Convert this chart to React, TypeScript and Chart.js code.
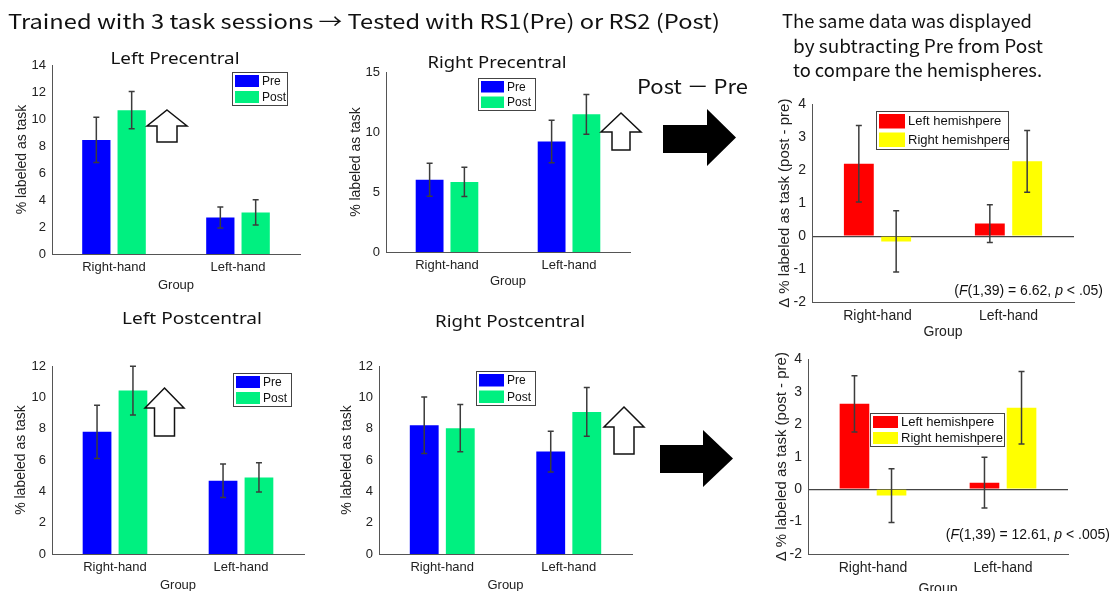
import React, { useEffect, useRef } from "react";
import { Chart, registerables } from "chart.js";
Chart.register(...registerables);

// ---------- data ----------
const groups = ["Right-hand", "Left-hand"];
const sessionLabels = ["Pre", "Post"];
const hemiLabels = ["Left hemishpere", "Right hemishpere"];

// Left Precentral
const lpcPre = [8.45, 2.7];
const lpcPreErr = [1.68, 0.78];
const lpcPost = [10.65, 3.08];
const lpcPostErr = [1.38, 0.93];
const lpcRange = [0, 14, 2];

// Right Precentral
const rpcPre = [6.02, 9.2];
const rpcPreErr = [1.37, 1.77];
const rpcPost = [5.84, 11.47];
const rpcPostErr = [1.22, 1.65];
const rpcRange = [0, 15, 5];

// Precentral difference (post - pre)
const dpcLeft = [2.2, 0.38];
const dpcLeftErr = [1.16, 0.575];
const dpcRight = [-0.16, 2.27];
const dpcRightErr = [0.93, 0.935];
const dpcRange = [-2, 4, 1];

// Left Postcentral
const lpoPre = [7.8, 4.68];
const lpoPreErr = [1.7, 1.07];
const lpoPost = [10.43, 4.89];
const lpoPostErr = [1.55, 0.94];
const lpoRange = [0, 12, 2];

// Right Postcentral
const rpoPre = [8.22, 6.54];
const rpoPreErr = [1.8, 1.3];
const rpoPost = [8.03, 9.07];
const rpoPostErr = [1.51, 1.55];
const rpoRange = [0, 12, 2];

// Postcentral difference (post - pre)
const dpoLeft = [2.63, 0.2];
const dpoLeftErr = [0.865, 0.785];
const dpoRight = [-0.2, 2.51];
const dpoRightErr = [0.825, 1.12];
const dpoRange = [-2, 4, 1];

const preColor = "#0000ff";
const postColor = "#00f080";
const leftHemiColor = "#ff0000";
const rightHemiColor = "#ffff00";

const FONT = '"Liberation Sans", Arial, sans-serif';

type DS = { label: string; color: string; data: number[]; err: number[] };
type Cfg = {
  left: number; top: number; w: number; h: number;
  yW: number; xH: number; padTop: number; padRight: number;
  range: number[]; zero: boolean; fs: number; tf: number;
  yTitle: string; yTitlePad: number; groupPad: number;
  sets: DS[];
  title?: { text: string; cx: number; cy: number; width: number; size: number };
  legend: { x: number; y: number; w: number; h: number; sw: number; size: number };
  note?: { parts: { t: string; it: boolean }[]; right: number; cy: number; size: number };
};

const prePost = (pre: number[], preErr: number[], post: number[], postErr: number[]): DS[] => [
  { label: sessionLabels[0], color: preColor, data: pre, err: preErr },
  { label: sessionLabels[1], color: postColor, data: post, err: postErr },
];
const hemi = (l: number[], lErr: number[], r: number[], rErr: number[]): DS[] => [
  { label: hemiLabels[0], color: leftHemiColor, data: l, err: lErr },
  { label: hemiLabels[1], color: rightHemiColor, data: r, err: rErr },
];

const panels: Cfg[] = [
  {
    left: 0, top: 40, w: 304, h: 260, yW: 52, xH: 46, padTop: 25, padRight: 4,
    range: lpcRange, zero: false, fs: 13, tf: 14, yTitle: "% labeled as task", yTitlePad: 13.6, groupPad: 7.2,
    sets: prePost(lpcPre, lpcPreErr, lpcPost, lpcPostErr),
    title: { text: "Left Precentral", cx: 175, cy: 59, width: 129, size: 16.5 },
    legend: { x: 232, y: 72, w: 56, h: 34, sw: 24, size: 12 },
  },
  {
    left: 300, top: 40, w: 335, h: 260, yW: 86, xH: 48, padTop: 32, padRight: 5,
    range: rpcRange, zero: false, fs: 13, tf: 14, yTitle: "% labeled as task", yTitlePad: 47.3, groupPad: 11.2,
    sets: prePost(rpcPre, rpcPreErr, rpcPost, rpcPostErr),
    title: { text: "Right Precentral", cx: 497, cy: 63, width: 139, size: 16.5 },
    legend: { x: 478, y: 78, w: 58, h: 33, sw: 23, size: 12 },
  },
  {
    left: 760, top: 90, w: 355, h: 255, yW: 52, xH: 43, padTop: 14, padRight: 41,
    range: dpcRange, zero: true, fs: 14, tf: 15, yTitle: "\u0394 % labeled as task (post - pre)", yTitlePad: 16, groupPad: 4.6,
    sets: hemi(dpcLeft, dpcLeftErr, dpcRight, dpcRightErr),
    legend: { x: 876, y: 111, w: 133, h: 39, sw: 26, size: 13 },
    note: {
      parts: [
        { t: "(", it: false }, { t: "F", it: true }, { t: "(1,39) = 6.62, ", it: false },
        { t: "p", it: true }, { t: " < .05)", it: false },
      ],
      right: 1103, cy: 291, size: 14,
    },
  },
  {
    left: 0, top: 300, w: 310, h: 291, yW: 52, xH: 37, padTop: 66, padRight: 6,
    range: lpoRange, zero: false, fs: 13, tf: 14, yTitle: "% labeled as task", yTitlePad: 12.6, groupPad: -1.8,
    sets: prePost(lpoPre, lpoPreErr, lpoPost, lpoPostErr),
    title: { text: "Left Postcentral", cx: 192, cy: 319, width: 140, size: 16.5 },
    legend: { x: 233, y: 373, w: 59, h: 34, sw: 24, size: 12 },
  },
  {
    left: 300, top: 300, w: 340, h: 291, yW: 79, xH: 37, padTop: 66, padRight: 8,
    range: rpoRange, zero: false, fs: 13, tf: 14, yTitle: "% labeled as task", yTitlePad: 38.6, groupPad: -1.8,
    sets: prePost(rpoPre, rpoPreErr, rpoPost, rpoPostErr),
    title: { text: "Right Postcentral", cx: 510, cy: 322, width: 150, size: 16.5 },
    legend: { x: 476, y: 371, w: 60, h: 35, sw: 25, size: 12 },
  },
  {
    left: 760, top: 345, w: 355, h: 246, yW: 48, xH: 37, padTop: 12, padRight: 47,
    range: dpoRange, zero: true, fs: 14, tf: 15, yTitle: "\u0394 % labeled as task (post - pre)", yTitlePad: 13, groupPad: -6.4,
    sets: hemi(dpoLeft, dpoLeftErr, dpoRight, dpoRightErr),
    legend: { x: 870, y: 413, w: 135, h: 34, sw: 25, size: 13 },
    note: {
      parts: [
        { t: "(", it: false }, { t: "F", it: true }, { t: "(1,39) = 12.61, ", it: false },
        { t: "p", it: true }, { t: " < .005)", it: false },
      ],
      right: 1110, cy: 535, size: 14,
    },
  },
];

function makePlugin(c: Cfg) {
  return {
    id: "decor",
    afterDatasetsDraw(chart: any) {
      const ctx = chart.ctx as CanvasRenderingContext2D;
      const ys = chart.scales.y;
      ctx.save();
      ctx.strokeStyle = "#3c3c3c";
      ctx.lineWidth = 1.5;
      c.sets.forEach((s, i) => {
        const meta = chart.getDatasetMeta(i);
        meta.data.forEach((el: any, j: number) => {
          const x = el.x;
          const y1 = ys.getPixelForValue(s.data[j] + s.err[j]);
          const y2 = ys.getPixelForValue(s.data[j] - s.err[j]);
          ctx.beginPath();
          ctx.moveTo(x, y1); ctx.lineTo(x, y2);
          ctx.moveTo(x - 3, y1); ctx.lineTo(x + 3, y1);
          ctx.moveTo(x - 3, y2); ctx.lineTo(x + 3, y2);
          ctx.stroke();
        });
      });
      ctx.restore();
    },
    afterDraw(chart: any) {
      const ctx = chart.ctx as CanvasRenderingContext2D;
      ctx.save();
      // legend box
      const lg = c.legend;
      const X = lg.x - c.left, Y = lg.y - c.top;
      ctx.fillStyle = "#fff";
      ctx.fillRect(X, Y, lg.w, lg.h);
      ctx.strokeStyle = "#444";
      ctx.lineWidth = 1;
      ctx.strokeRect(X + 0.5, Y + 0.5, lg.w - 1, lg.h - 1);
      const n = c.sets.length;
      const rowH = (lg.h - 2) / n;
      c.sets.forEach((s, i) => {
        const ry = Y + 1 + i * rowH;
        ctx.fillStyle = s.color;
        ctx.fillRect(X + 3, ry + 2, lg.sw, rowH - 4);
        ctx.fillStyle = "#111";
        ctx.font = `${lg.size}px ${FONT}`;
        ctx.textBaseline = "middle";
        ctx.textAlign = "left";
        ctx.fillText(s.label, X + 3 + lg.sw + 3, ry + rowH / 2 + 0.5);
      });
      // panel title
      if (c.title) {
        const t = c.title;
        ctx.font = `${t.size}px "Noto Sans", sans-serif`;
        const m = ctx.measureText(t.text).width;
        ctx.save();
        ctx.translate(t.cx - c.left, t.cy - c.top);
        ctx.scale(t.width / m, 1);
        ctx.fillStyle = "#111";
        ctx.textAlign = "center";
        ctx.textBaseline = "middle";
        ctx.fillText(t.text, 0, 0);
        ctx.restore();
      }
      // statistics note
      if (c.note) {
        const nt = c.note;
        const fontOf = (it: boolean) => `${it ? "italic " : ""}${nt.size}px ${FONT}`;
        let total = 0;
        nt.parts.forEach((p) => { ctx.font = fontOf(p.it); total += ctx.measureText(p.t).width; });
        let x = nt.right - c.left - total;
        ctx.fillStyle = "#111";
        ctx.textBaseline = "middle";
        ctx.textAlign = "left";
        nt.parts.forEach((p) => {
          ctx.font = fontOf(p.it);
          ctx.fillText(p.t, x, nt.cy - c.top);
          x += ctx.measureText(p.t).width;
        });
      }
      ctx.restore();
    },
  };
}

function Panel({ c }: { c: Cfg }) {
  const ref = useRef<HTMLCanvasElement>(null);
  useEffect(() => {
    const font = { family: FONT, size: c.fs };
    const tfont = { family: FONT, size: c.tf };
    const chart = new Chart(ref.current as HTMLCanvasElement, {
      type: "bar",
      data: {
        labels: groups,
        datasets: c.sets.map((s) => ({
          label: s.label,
          data: s.data,
          backgroundColor: s.color,
          borderWidth: 0,
          categoryPercentage: 0.57,
          barPercentage: 0.8,
        })),
      },
      options: {
        animation: false,
        responsive: false,
        maintainAspectRatio: false,
        layout: { padding: { top: c.padTop, right: c.padRight, left: 0, bottom: 0 } },
        plugins: { legend: { display: false }, tooltip: { enabled: false }, title: { display: false } },
        scales: {
          x: {
            ticks: { font, color: "#222", padding: 6, maxRotation: 0 },
            grid: { display: false, drawTicks: false },
            border: { display: true, color: "#555", width: 1 },
            title: { display: true, text: "Group", font, color: "#222", padding: { top: 0, bottom: c.groupPad } },
            afterFit: (s: any) => { s.height = c.xH; },
          },
          y: {
            min: c.range[0],
            max: c.range[1],
            ticks: { stepSize: c.range[2], font, color: "#222", padding: 6 },
            grid: c.zero
              ? {
                  display: true,
                  drawOnChartArea: true,
                  drawTicks: false,
                  lineWidth: 1.2,
                  color: (ctx: any) => (ctx.tick && ctx.tick.value === 0 ? "#444" : "rgba(0,0,0,0)"),
                }
              : { display: false, drawTicks: false },
            border: { display: true, color: "#555", width: 1 },
            title: { display: true, text: c.yTitle, font: tfont, color: "#222", padding: { top: c.yTitlePad, bottom: 0 } },
            afterFit: (s: any) => { s.width = c.yW; },
          },
        },
      } as any,
      plugins: [makePlugin(c)],
    });
    return () => chart.destroy();
  }, []);
  return (
    <canvas
      ref={ref}
      width={c.w}
      height={c.h}
      style={{ position: "absolute", left: c.left, top: c.top, width: c.w, height: c.h }}
    />
  );
}

function upArrow(cx: number, top: number, headY: number, bottom: number, halfHead: number, halfShaft: number) {
  return [
    [cx, top], [cx + halfHead, headY], [cx + halfShaft, headY], [cx + halfShaft, bottom],
    [cx - halfShaft, bottom], [cx - halfShaft, headY], [cx - halfHead, headY],
  ].map((p) => p.join(",")).join(" ");
}
function rightArrow(x0: number, shaftTop: number, shaftBot: number, headX: number, headTop: number, headBot: number, tip: number) {
  const my = (headTop + headBot) / 2;
  return [
    [x0, shaftTop], [headX, shaftTop], [headX, headTop], [tip, my], [headX, headBot], [headX, shaftBot], [x0, shaftBot],
  ].map((p) => p.join(",")).join(" ");
}

const JP = '"Noto Sans CJK JP", "Noto Sans", sans-serif';

export default function App() {
  return (
    <div style={{ position: "absolute", left: 0, top: 0, width: 1115, height: 591, background: "#fff", overflow: "hidden" }}>
      {panels.map((c, i) => (
        <Panel key={i} c={c} />
      ))}
      <svg width={1115} height={591} style={{ position: "absolute", left: 0, top: 0, pointerEvents: "none" }}>
        <text x={8} y={29} fontFamily={JP} fontSize={20} fill="#111" textLength={712} lengthAdjust="spacingAndGlyphs">
          Trained with 3 task sessions → Tested with RS1(Pre) or RS2 (Post)
        </text>
        <text x={782} y={28} fontFamily={JP} fontSize={18} fill="#111" textLength={250} lengthAdjust="spacingAndGlyphs">
          The same data was displayed
        </text>
        <text x={793} y={53} fontFamily={JP} fontSize={18} fill="#111" textLength={250} lengthAdjust="spacingAndGlyphs">
          by subtracting Pre from Post
        </text>
        <text x={793} y={77} fontFamily={JP} fontSize={18} fill="#111" textLength={249} lengthAdjust="spacingAndGlyphs">
          to compare the hemispheres.
        </text>
        <text x={637} y={94} fontFamily={JP} fontSize={20} fill="#111" textLength={111} lengthAdjust="spacingAndGlyphs">
          Post － Pre
        </text>
        <g fill="#fff" stroke="#111" strokeWidth={1.5}>
          <polygon points={upArrow(167, 110, 126, 142, 20, 10)} />
          <polygon points={upArrow(621, 113, 132, 150, 20, 9)} />
          <polygon points={upArrow(164.5, 388, 408, 436, 19.5, 10)} />
          <polygon points={upArrow(624, 407, 427, 454, 20, 10)} />
        </g>
        <g fill="#000">
          <polygon points={rightArrow(663, 125, 153, 707, 109, 166, 736)} />
          <polygon points={rightArrow(660, 445, 473, 703, 430, 487, 733)} />
        </g>
      </svg>
    </div>
  );
}
